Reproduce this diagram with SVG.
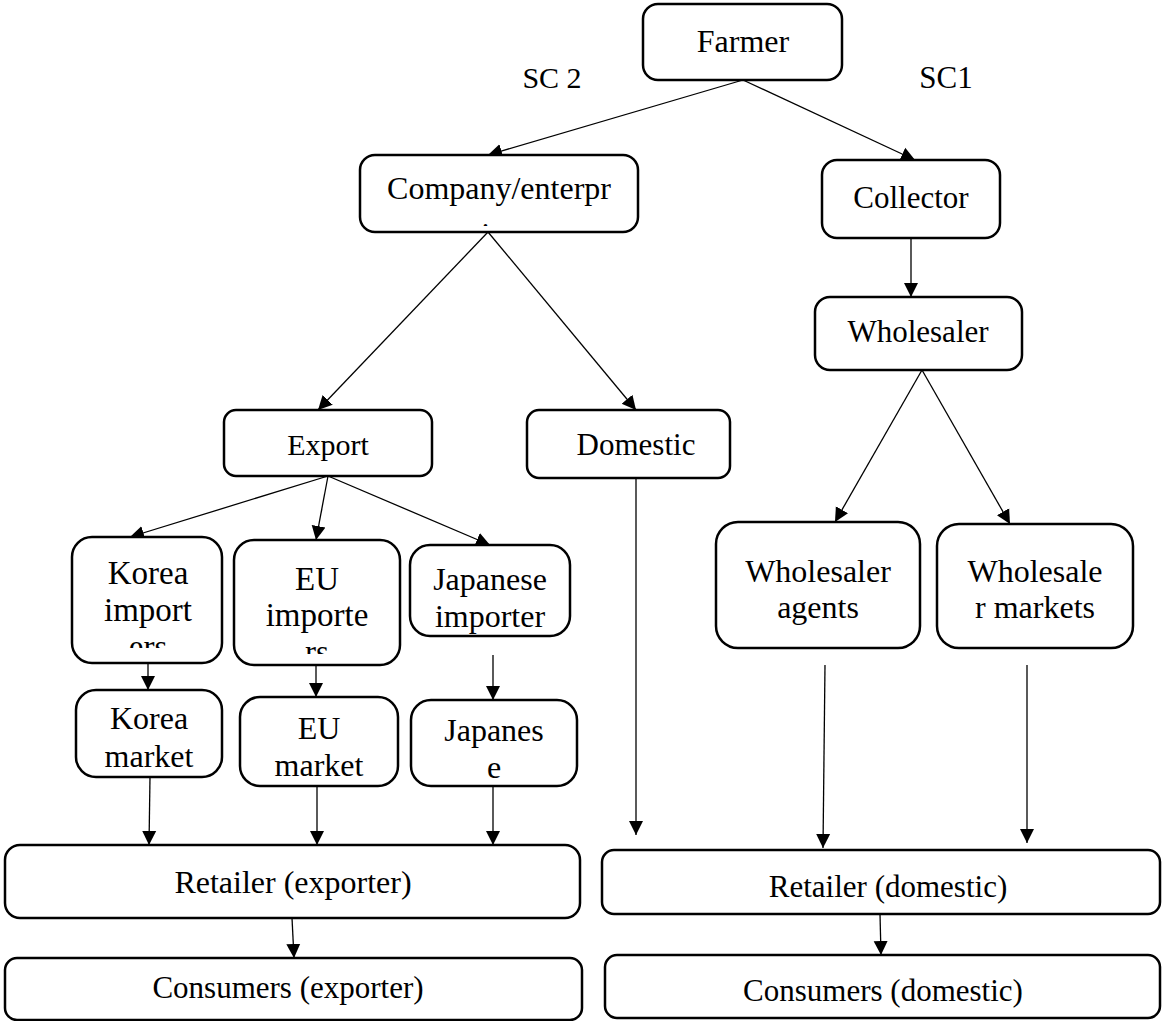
<svg xmlns="http://www.w3.org/2000/svg" width="1162" height="1021" viewBox="0 0 1162 1021">
<style>
.box{fill:#fff;stroke:#000;stroke-width:2.5}
.t{font-family:"Liberation Serif","Times New Roman",serif;fill:#000;text-anchor:middle}
.c{stroke:#000;stroke-width:1.3;fill:none;marker-end:url(#ah)}
</style>
<defs>
<marker id="ah" markerUnits="userSpaceOnUse" markerWidth="14" markerHeight="16" refX="14" refY="7" orient="auto" viewBox="0 0 14 14">
<path d="M0,0 L14,7 L0,14 Z" fill="#000"/>
</marker>
<clipPath id="clipCo"><rect x="360" y="155" width="278" height="71"/></clipPath>
<clipPath id="clipKI"><rect x="72" y="537" width="150" height="111"/></clipPath>
<clipPath id="clipEI"><rect x="234" y="540" width="166" height="114"/></clipPath>
</defs>
<rect width="1162" height="1021" fill="#fff"/>

<g id="connectors">
<line class="c" x1="743" y1="80" x2="488" y2="155"/>
<line class="c" x1="743" y1="80" x2="915" y2="160"/>
<line class="c" x1="488" y1="232" x2="318" y2="410"/>
<line class="c" x1="488" y1="232" x2="636" y2="410"/>
<line class="c" x1="911" y1="238" x2="911" y2="297"/>
<line class="c" x1="922" y1="370" x2="835" y2="522"/>
<line class="c" x1="922" y1="370" x2="1010" y2="524"/>
<line class="c" x1="328" y1="476" x2="130" y2="537"/>
<line class="c" x1="328" y1="476" x2="316" y2="540"/>
<line class="c" x1="328" y1="476" x2="490" y2="545"/>
<line class="c" x1="148" y1="648" x2="148" y2="690"/>
<line class="c" x1="316" y1="655" x2="316" y2="697"/>
<line class="c" x1="493" y1="655" x2="493" y2="700"/>
<line class="c" x1="150" y1="777" x2="149" y2="845"/>
<line class="c" x1="317" y1="786" x2="317" y2="845"/>
<line class="c" x1="493" y1="786" x2="493" y2="845"/>
<line class="c" x1="636" y1="478" x2="636" y2="835"/>
<line class="c" x1="825" y1="665" x2="823" y2="848"/>
<line class="c" x1="1027" y1="665" x2="1027" y2="843"/>
<line class="c" x1="292" y1="918" x2="294" y2="958"/>
<line class="c" x1="880" y1="914" x2="881" y2="955"/>
</g>

<g id="farmer"><rect class="box" x="643" y="4" width="199" height="76" rx="15"/><text class="t" x="743" y="52" font-size="32">Farmer</text></g>
<g id="sc2"><text class="t" x="552" y="88" font-size="30">SC 2</text></g>
<g id="sc1"><text class="t" x="946" y="88" font-size="31">SC1</text></g>
<g id="company"><rect class="box" x="360" y="155" width="278" height="77" rx="15"/><g clip-path="url(#clipCo)"><text class="t" x="499" y="199" font-size="32">Company/enterpr</text><text class="t" x="499" y="245" font-size="32">ise</text></g></g>
<g id="collector"><rect class="box" x="822" y="160" width="178" height="78" rx="15"/><text class="t" x="911" y="208" font-size="31">Collector</text></g>
<g id="wholesaler"><rect class="box" x="815" y="297" width="207" height="73" rx="15"/><text class="t" x="918" y="342" font-size="31">Wholesaler</text></g>
<g id="export"><rect class="box" x="224" y="410" width="208" height="66" rx="12"/><text class="t" x="328" y="455" font-size="30">Export</text></g>
<g id="domestic"><rect class="box" x="527" y="410" width="203" height="68" rx="12"/><text class="t" x="636" y="455" font-size="31">Domestic</text></g>
<g id="korea-importers"><rect class="box" x="72" y="537" width="150" height="126" rx="20"/><g clip-path="url(#clipKI)"><text class="t" x="148" y="584" font-size="33">Korea</text><text class="t" x="148" y="621" font-size="33">import</text><text class="t" x="148" y="658" font-size="33">ers</text></g></g>
<g id="eu-importers"><rect class="box" x="234" y="540" width="166" height="125" rx="20"/><g clip-path="url(#clipEI)"><text class="t" x="317" y="590" font-size="33">EU</text><text class="t" x="317" y="626" font-size="33">importe</text><text class="t" x="317" y="663" font-size="33">rs</text></g></g>
<g id="japanese-importer"><rect class="box" x="410" y="545" width="160" height="91" rx="20"/><text class="t" x="490" y="590" font-size="32">Japanese</text><text class="t" x="490" y="627" font-size="32">importer</text></g>
<g id="korea-market"><rect class="box" x="76" y="690" width="146" height="87" rx="20"/><text class="t" x="149" y="729" font-size="32">Korea</text><text class="t" x="149" y="767" font-size="32">market</text></g>
<g id="eu-market"><rect class="box" x="240" y="697" width="158" height="89" rx="20"/><text class="t" x="319" y="739" font-size="32">EU</text><text class="t" x="319" y="776" font-size="32">market</text></g>
<g id="japanese-market"><rect class="box" x="411" y="700" width="166" height="86" rx="20"/><text class="t" x="494" y="741" font-size="32">Japanes</text><text class="t" x="494" y="778" font-size="32">e</text></g>
<g id="retailer-exporter"><rect class="box" x="5" y="845" width="575" height="73" rx="15"/><text class="t" x="293" y="893" font-size="32">Retailer (exporter)</text></g>
<g id="consumers-exporter"><rect class="box" x="5" y="958" width="577" height="62" rx="12"/><text class="t" x="288" y="998" font-size="31">Consumers (exporter)</text></g>
<g id="wholesaler-agents"><rect class="box" x="716" y="522" width="204" height="126" rx="22"/><text class="t" x="818" y="582" font-size="32">Wholesaler</text><text class="t" x="818" y="618" font-size="32">agents</text></g>
<g id="wholesaler-markets"><rect class="box" x="937" y="524" width="196" height="124" rx="22"/><text class="t" x="1035" y="582" font-size="32">Wholesale</text><text class="t" x="1035" y="618" font-size="32">r markets</text></g>
<g id="retailer-domestic"><rect class="box" x="602" y="850" width="558" height="64" rx="12"/><text class="t" x="888" y="897" font-size="31">Retailer (domestic)</text></g>
<g id="consumers-domestic"><rect class="box" x="605" y="955" width="555" height="63" rx="12"/><text class="t" x="883" y="1001" font-size="31">Consumers (domestic)</text></g>
</svg>
